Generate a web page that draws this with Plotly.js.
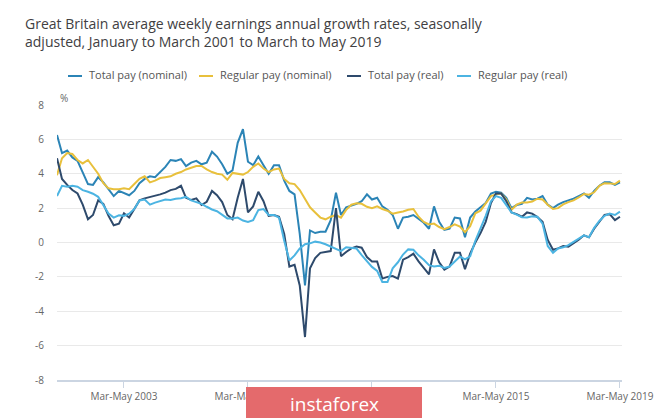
<!DOCTYPE html>
<html>
<head>
<meta charset="utf-8">
<script src="https://cdn.plot.ly/plotly-3.0.1.min.js"></script>
<style>
  html, body { margin: 0; padding: 0; background: #fff; }
  #chart { width: 665px; height: 418px; }
</style>
</head>
<body>
<div id="chart"></div>
<script>
// every second three-month period, Jan-Mar 2001 .. Mar-May 2019
var firstYear = 2001;
var firstMonth = 2;   // centre month of Jan-Mar
var stepMonths = 2;

var seriesNames = ['Total pay (nominal)', 'Regular pay (nominal)', 'Total pay (real)', 'Regular pay (real)'];
var seriesColors = ['#2b84b6', '#e8c03c', '#2e4a6c', '#4cb4e2'];

var totalNominal = [
  6.25, 5.2, 5.35, 4.95, 4.75, 4.1, 3.4, 3.35, 3.8, 3.5, 3.1, 2.7,
  3.0, 2.9, 2.75, 3.0, 3.45, 3.7, 3.85, 3.8, 4.1, 4.4, 4.8, 4.75,
  4.85, 4.45, 4.65, 4.75, 4.55, 4.65, 5.28, 5.0, 4.55, 4.0, 4.2, 5.8,
  6.6, 4.7, 4.5, 5.0, 4.5, 4.0, 4.5, 4.5, 3.6, 3.0, 2.8, 0.5,
  -2.5, 0.7, 0.55, 0.63, 0.63, 1.3, 2.9, 1.6, 2.05, 2.15, 2.25, 2.4,
  2.8, 2.5, 2.6, 2.1, 1.9, 1.6, 0.8, 1.45, 1.5, 1.6, 1.35, 1.15,
  0.8, 2.1, 1.2, 0.73, 0.8, 1.45, 1.4, 0.3, 1.45, 1.8, 2.05, 2.3,
  2.85, 2.95, 2.9, 2.6, 2.0, 2.18, 2.25, 2.6, 2.5, 2.55, 2.7, 2.2,
  2.0, 2.2, 2.35, 2.45, 2.55, 2.7, 2.85, 2.6, 3.0, 3.3, 3.5, 3.5,
  3.35, 3.5
];

var regularNominal = [
  3.92, 4.9, 5.2, 5.15, 4.8, 4.6, 4.8, 4.4, 4.0, 3.45, 3.15, 3.1,
  3.1, 3.15, 3.1, 3.4, 3.7, 3.85, 3.5, 3.6, 3.75, 3.8, 3.85, 4.0,
  4.1, 4.25, 4.35, 4.45, 4.45, 4.25, 4.1, 4.0, 3.95, 3.65, 4.05, 4.0,
  3.95, 4.1, 4.4, 4.6, 4.3, 4.1, 4.25, 4.3, 3.7, 3.45, 3.4, 3.05,
  2.55, 2.05, 1.75, 1.45, 1.35, 1.5, 1.6, 1.45, 1.9, 2.2, 2.28, 2.25,
  2.08, 2.0, 2.1, 1.95, 1.85, 1.68, 1.75, 1.8, 1.9, 1.95, 1.5, 1.2,
  1.05, 1.1, 0.9, 0.78, 0.9, 1.05, 0.92, 0.6, 0.95, 1.7, 1.85, 2.25,
  2.7, 2.8, 2.85, 2.5, 1.9, 2.2, 2.33, 2.33, 2.38, 2.55, 2.5, 2.2,
  1.95, 2.0, 2.22, 2.35, 2.45, 2.62, 2.82, 2.78, 2.92, 3.3, 3.45, 3.44,
  3.4, 3.6
];

var totalReal = [
  4.9, 3.7, 3.35, 3.05, 2.85, 2.2, 1.35, 1.6, 2.45, 2.25, 1.55, 1.0,
  1.1, 1.7, 1.45, 1.95, 2.45, 2.57, 2.64, 2.72, 2.8, 2.9, 3.05, 3.12,
  3.3, 2.6, 2.47, 2.57, 2.18, 2.37, 3.0, 2.75, 2.35, 1.6, 1.35, 2.6,
  3.7, 1.75, 2.1, 2.95, 2.4, 1.55, 1.6, 1.5, 0.5, -1.4, -1.3, -2.5,
  -5.5, -1.5, -0.9, -0.6, -0.55, -0.5, 2.0, -0.8, -0.55, -0.34, -0.24, -0.3,
  -0.85, -1.1, -1.1, -2.1, -2.0, -1.95, -2.1, -1.0, -0.85, -0.65, -1.1, -1.45,
  -1.85, -0.4, -1.15, -1.58, -1.4, -0.6, -0.6, -1.55, -0.65, 0.0, 0.55, 1.2,
  2.3, 2.85, 2.85, 2.4, 1.75, 1.65, 1.5, 1.75, 1.68, 1.48, 1.2, 0.15,
  -0.42, -0.34, -0.2, -0.24, -0.05, 0.17, 0.42, 0.3, 0.8, 1.2, 1.6, 1.65,
  1.3, 1.5
];

var regularReal = [
  2.7, 3.3, 3.25, 3.3, 3.25, 3.05, 2.95, 2.84, 2.66, 2.15, 1.68, 1.45,
  1.58, 1.55, 1.68, 1.95, 2.45, 2.5, 2.2, 2.32, 2.4, 2.5, 2.47, 2.55,
  2.57, 2.66, 2.45, 2.35, 2.25, 2.08, 1.92, 1.82, 1.62, 1.4, 1.4, 1.45,
  1.28, 1.2, 1.3, 1.89, 1.95, 1.6, 1.6, 1.45, 0.1, -1.05, -0.75, -0.35,
  -0.1, -0.05, 0.05, 0.0, -0.1, -0.24, -0.4, -0.5, -0.28, -0.3, -0.35, -0.73,
  -1.12, -1.42, -1.65, -2.3, -2.3, -1.5, -1.15, -0.7, -0.4, -0.42, -0.75, -1.0,
  -1.32, -1.4, -1.35, -1.48, -1.4, -1.1, -0.82, -0.98, -0.8, 0.1, 0.8, 1.55,
  2.4, 2.7, 2.6, 2.2, 1.75, 1.62, 1.47, 1.45, 1.52, 1.5, 1.1, -0.2,
  -0.6, -0.35, -0.28, -0.15, 0.05, 0.25, 0.42, 0.3, 0.85, 1.25, 1.55, 1.68,
  1.6, 1.8
];

var tickYears = [2003, 2007, 2011, 2015, 2019];
var tickLabels = ['Mar-May 2003', 'Mar-May 2007', '', 'Mar-May 2015', 'Mar-May 2019']; // 2011 label sits under the watermark
var yTicks = [-8, -6, -4, -2, 0, 2, 4, 6, 8];
var yTickLabels = ['-8', '-6', '-4', '-2', '0', '2', '4', '6', '8'];

// centre month of each period as a date
var periods = [];
for (var i = 0; i < totalNominal.length; i++) {
  var m = firstMonth - 1 + i * stepMonths;
  var y = firstYear + Math.floor(m / 12);
  var mm = (m % 12) + 1;
  periods.push(y + '-' + (mm < 10 ? '0' + mm : mm) + '-01');
}

var tickVals = tickYears.map(function(yr) { return yr + '-04-01'; });

var allValues = [totalNominal, regularNominal, totalReal, regularReal];
var data = allValues.map(function(values, n) {
  return {
    x: periods,
    y: values,
    name: seriesNames[n],
    type: 'scatter',
    mode: 'lines',
    line: { color: seriesColors[n], width: 2 }
  };
});

// plot area in pixels, used to place the hand-made legend and the watermark
var plotL = 57, plotR = 622, plotT = 105, plotB = 380;
function px(x) { return (x - plotL) / (plotR - plotL); }
function py(y) { return (plotB - y) / (plotB - plotT); }

var legendTextX = [87, 218, 366, 476];
var legendY = 75;

var annotations = [
  { text: '%', xref: 'paper', yref: 'paper', x: px(58), y: py(98), xanchor: 'left', yanchor: 'middle',
    showarrow: false, font: { size: 10, color: '#666' } },
  { text: 'instaforex', xref: 'paper', yref: 'paper', x: px(334), y: py(404),
    xanchor: 'center', yanchor: 'middle', showarrow: false,
    font: { family: 'Open Sans, sans-serif', size: 19, color: '#fff' } }
];
var shapes = [
  { type: 'rect', xref: 'paper', yref: 'paper', layer: 'above',
    x0: px(246), x1: px(422), y0: py(430), y1: py(387),
    fillcolor: '#e46a6c', line: { width: 0 } }
];

seriesNames.forEach(function(name, n) {
  annotations.push({
    text: name, xref: 'paper', yref: 'paper', x: px(legendTextX[n]), y: py(legendY),
    xanchor: 'left', yanchor: 'middle', showarrow: false,
    font: { size: 11, color: '#555' }
  });
  shapes.push({
    type: 'line', xref: 'paper', yref: 'paper',
    x0: px(legendTextX[n] - 19), x1: px(legendTextX[n] - 5), y0: py(legendY + 1), y1: py(legendY + 1),
    line: { color: seriesColors[n], width: 2 }
  });
});

var layout = {
  width: 665,
  height: 418,
  margin: { t: plotT, b: 418 - plotB, l: plotL, r: 665 - plotR },
  paper_bgcolor: '#fff',
  plot_bgcolor: '#fff',
  font: { family: 'Open Sans, sans-serif', color: '#666' },
  title: {
    text: 'Great Britain average weekly earnings annual growth rates, seasonally<br>adjusted, January to March 2001 to March to May 2019',
    x: 25 / 665,
    xanchor: 'left',
    yref: 'container',
    y: 1 - 29 / 418,
    yanchor: 'middle',
    font: { family: 'Open Sans, sans-serif', size: 14, color: '#414042' }
  },
  showlegend: false,
  xaxis: {
    type: 'date',
    range: ['2001-02-01', '2019-04-25'],
    tickvals: tickVals,
    ticktext: tickLabels,
    showgrid: false,
    showline: true,
    linecolor: '#cbd5e2',
    linewidth: 1.5,
    ticks: 'outside',
    ticklen: 6,
    tickcolor: '#cbd5e2',
    tickfont: { size: 10, color: '#666' },
    zeroline: false,
    fixedrange: true
  },
  yaxis: {
    range: [-8, 8],
    tickvals: yTicks,
    ticktext: yTickLabels,
    showgrid: true,
    gridcolor: '#e9e9e9',
    gridwidth: 1,
    zeroline: false,
    showline: false,
    ticks: '',
    ticklabelstandoff: 12,
    tickfont: { size: 10, color: '#666' },
    fixedrange: true
  },
  annotations: annotations,
  shapes: shapes
};

Plotly.newPlot('chart', data, layout, { displayModeBar: false, staticPlot: true });
</script>
</body>
</html>
